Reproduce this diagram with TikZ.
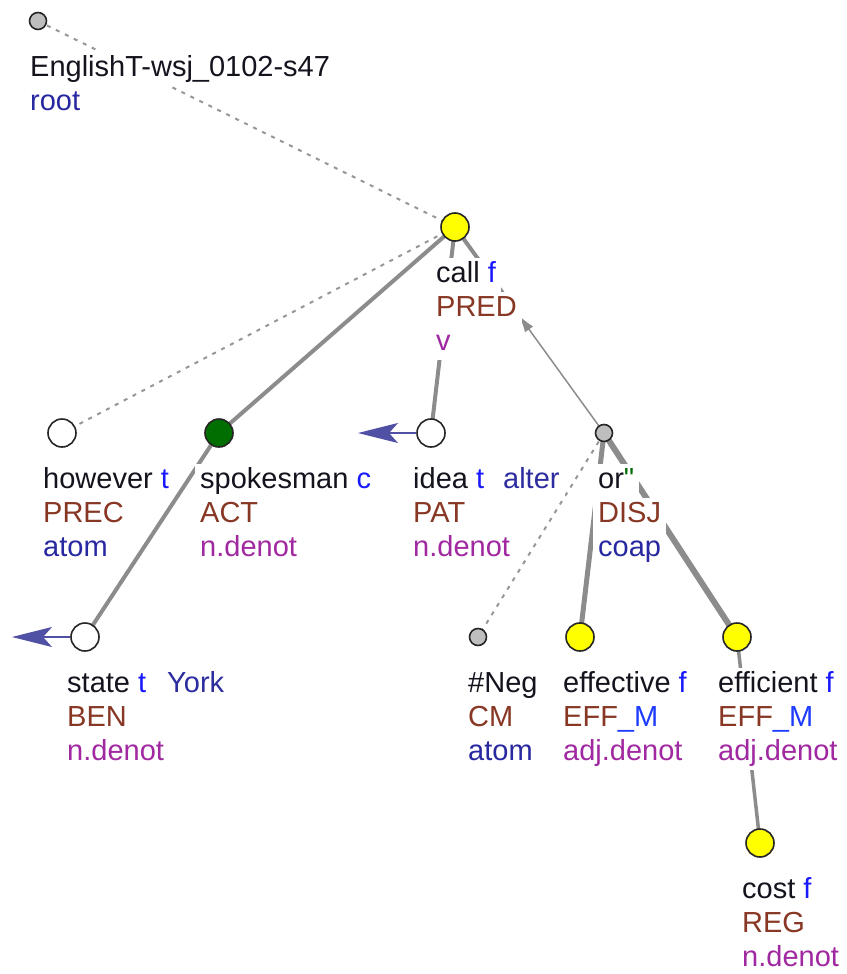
\documentclass[tikz,border=0pt]{standalone}
\usepackage{fontspec}
\setmainfont{Liberation Sans}
\newfontfamily\straightquotes{Liberation Sans}[Ligatures=TeXOff]
\usetikzlibrary{arrows.meta,calc}
\pgfdeclarelayer{edges}
\pgfsetlayers{edges,main}

\definecolor{lemmacol}{RGB}{20,20,30}
\definecolor{flagcol}{RGB}{25,25,255}
\definecolor{refcol}{RGB}{45,45,160}
\definecolor{funcol}{RGB}{135,55,35}
\definecolor{membcol}{RGB}{30,60,255}
\definecolor{typcol}{RGB}{40,40,160}
\definecolor{semcol}{RGB}{160,40,160}
\definecolor{quotecol}{RGB}{0,110,0}
\definecolor{edgecol}{RGB}{140,140,140}
\definecolor{dotcol}{RGB}{150,150,150}
\definecolor{nodegray}{RGB}{190,190,190}
\definecolor{nodeyellow}{RGB}{255,255,0}
\definecolor{nodegreen}{RGB}{0,110,0}
\definecolor{corefcol}{RGB}{80,80,165}

% three text rows under a tree node: lemma, functor, semantic type
\newcommand\rowlabels[6]{%
  \node[lab] (#1A) at ({#2-5},{#3+55}) {#4};
  \node[lab] (#1B) at ({#2-5},{#3+89}) {#5};
  \node[lab] (#1C) at ({#2-5},{#3+123}) {#6};}

\begin{document}
\begin{tikzpicture}[x=1pt,y=-1pt,
  font=\fontsize{29}{34}\selectfont,
  lab/.style={anchor=base west, fill=white, inner xsep=5pt, inner ysep=2.5pt,
    text height=22pt, text depth=7pt, text=lemmacol},
  bignode/.style={circle, draw=black!85, line width=1.6pt, minimum size=28pt, inner sep=0pt},
  smallnode/.style={circle, draw=black!85, line width=1.6pt, minimum size=17pt, inner sep=0pt, fill=nodegray},
  thickedge/.style={draw=edgecol, line width=4pt},
  dottededge/.style={draw=dotcol, line width=2pt, dash pattern=on 4pt off 6pt},
  thinedge/.style={draw=edgecol, line width=1.5pt, -{Latex[length=17pt,width=10pt]}},
  corefarrow/.style={draw=corefcol, line width=2pt, -{Stealth[length=40pt,width=20pt,inset=9pt]}}
]
\useasboundingbox (0,0) rectangle (846,974);

% tree nodes
\node[smallnode] (root) at (38,21) {};
\node[bignode, fill=nodeyellow] (call) at (455,227) {};
\node[bignode, fill=white] (however) at (62,433) {};
\node[bignode, fill=nodegreen] (spokesman) at (219,433) {};
\node[bignode, fill=white] (idea) at (431,433) {};
\node[smallnode] (or) at (604,433) {};
\node[bignode, fill=white] (state) at (85,637) {};
\node[smallnode] (neg) at (478,637) {};
\node[bignode, fill=nodeyellow] (effective) at (580,637) {};
\node[bignode, fill=nodeyellow] (efficient) at (737,637) {};
\node[bignode, fill=nodeyellow] (cost) at (760,843) {};

\coordinate (ideaTip) at (358,433);
\coordinate (stateTip) at (12,637);
\coordinate (orUpper) at ($(call)!0.42!(or)$);
\coordinate (orLower) at ($(or)!0.57!(call)$);

% edges, behind nodes and labels
\begin{pgfonlayer}{edges}
  \draw[dottededge] (root.center) -- (call.center);
  \draw[dottededge] (call.center) -- (however.center);
  \draw[thickedge] (call.center) -- (spokesman.center);
  \draw[thickedge] (call.center) -- (idea.center);
  \draw[thickedge] (call.center) -- (orUpper);
  \draw[thinedge] (or.center) -- (orLower);
  \draw[thickedge] (spokesman.center) -- (state.center);
  \draw[dottededge] (or.center) -- (neg.center);
  \draw[thickedge, line width=5pt] (or.center) -- (effective.center);
  \draw[thickedge, line width=6pt] (or.center) -- (efficient.center);
  \draw[thickedge, line width=3.5pt] (efficient.center) -- (cost.center);
\end{pgfonlayer}

% coreference arrows
\draw[corefarrow] (idea.west) -- (ideaTip);
\draw[corefarrow] (state.west) -- (stateTip);

% labels
\node[lab] (rootA) at (25,76) {EnglishT-wsj\_0102-s47};
\node[lab] (rootB) at (25,110) {\textcolor{typcol}{root}};

\rowlabels{call}{436}{227}{call \textcolor{flagcol}{f}}{\textcolor{funcol}{PRED}}{\textcolor{semcol}{v}}
\rowlabels{however}{43}{433}{however \textcolor{flagcol}{t}}{\textcolor{funcol}{PREC}}{\textcolor{typcol}{atom}}
\rowlabels{spokesman}{200}{433}{spokesman \textcolor{flagcol}{c}}{\textcolor{funcol}{ACT}}{\textcolor{semcol}{n.denot}}
\rowlabels{idea}{413}{433}{idea \textcolor{flagcol}{t}\hspace{19pt}\textcolor{refcol}{alter}}{\textcolor{funcol}{PAT}}{\textcolor{semcol}{n.denot}}
\rowlabels{or}{598}{433}{or\textcolor{quotecol}{\straightquotes"}\hspace{12pt}}{\textcolor{funcol}{DISJ}\hspace{3pt}}{\textcolor{typcol}{coap}}
\rowlabels{state}{67}{637}{state \textcolor{flagcol}{t}\hspace{21pt}\textcolor{refcol}{York}}{\textcolor{funcol}{BEN}}{\textcolor{semcol}{n.denot}}
\rowlabels{neg}{468}{637}{\#Neg}{\textcolor{funcol}{CM}}{\textcolor{typcol}{atom}}
\rowlabels{effective}{563}{637}{effective \textcolor{flagcol}{f}}{\textcolor{funcol}{EFF}\textcolor{membcol}{\_M}}{\textcolor{semcol}{adj.denot}}
\rowlabels{efficient}{718}{637}{efficient \textcolor{flagcol}{f}}{\textcolor{funcol}{EFF}\textcolor{membcol}{\_M}}{\textcolor{semcol}{adj.denot}}
\rowlabels{cost}{742}{843}{cost \textcolor{flagcol}{f}}{\textcolor{funcol}{REG}}{\textcolor{semcol}{n.denot}}
\end{tikzpicture}
\end{document}
